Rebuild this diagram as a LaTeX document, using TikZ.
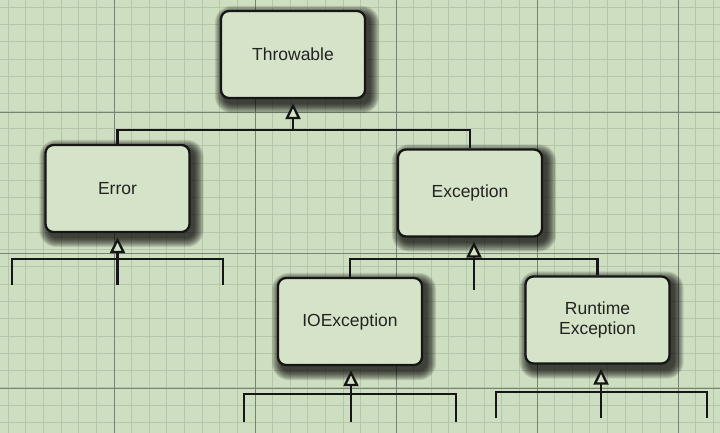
\documentclass[tikz,border=0pt]{standalone}
\usepackage{fontspec}
\setmainfont{Liberation Sans}
\usetikzlibrary{arrows.meta,calc}
\definecolor{bggreen}{RGB}{206,222,192}
\definecolor{boxgreen}{RGB}{213,228,200}
\definecolor{gridminor}{RGB}{182,198,170}
\definecolor{gridmajor}{RGB}{120,132,115}
\definecolor{inkc}{RGB}{22,22,22}
\definecolor{textc}{RGB}{35,35,35}
\pgfdeclarelayer{gridlayer}
\pgfdeclarelayer{shadowlayer}
\pgfsetlayers{gridlayer,shadowlayer,main}
\tikzset{
  cls/.style={draw=inkc, line width=2.3pt, fill=boxgreen, rounded corners=8pt,
    minimum width=144pt, minimum height=87pt, align=center, text=textc,
    font=\fontsize{17.5}{20.5}\selectfont, inner sep=0pt},
  link/.style={draw=inkc, line width=2.3pt},
  inherit/.style={link, -{Triangle[width=15pt,length=16pt,fill=boxgreen,line width=2.3pt]}, shorten >=4pt},
}
\newcommand\mkshadow[1]{%
  \begin{pgfonlayer}{shadowlayer}
  \foreach \e in {9,8,...,0}{
    \fill[black, opacity=0.11, rounded corners={8pt+\e pt}]
      ($(#1.north west)+(4-\e,5-\e)$) rectangle ($(#1.south east)+(4+\e,5+\e)$);
  }
  \end{pgfonlayer}}
\begin{document}
\begin{tikzpicture}[x=1pt,y=-1pt]
\useasboundingbox (0,0) rectangle (720,433);
\begin{pgfonlayer}{gridlayer}
  \fill[bggreen] (0,0) rectangle (720,433);
  \foreach \k in {0,...,41} \draw[gridminor, line width=0.8pt] ({8.25+17.625*\k},0) -- ++(0,433);
  \foreach \k in {0,...,24} \draw[gridminor, line width=0.8pt] (0,{7.25+17.3*\k}) -- ++(720,0);
  \foreach \xx in {114,255,396,537,678} \draw[gridmajor, line width=1pt] (\xx,0) -- (\xx,433);
  \foreach \yy in {113,253,388} \draw[gridmajor, line width=1pt] (0,\yy) -- (720,\yy);
\end{pgfonlayer}

\node[cls] (thr) at (293,54.5) {Throwable};
\node[cls] (err) at (117.5,188.5) {Error};
\node[cls] (exc) at (470,193) {Exception};
\node[cls] (ioe) at (350,321.5) {IOException};
\node[cls] (rte) at (597.5,320) {Runtime\\Exception};
\mkshadow{thr}\mkshadow{err}\mkshadow{exc}\mkshadow{ioe}\mkshadow{rte}

% Throwable
\coordinate (jthr) at (293,130);
\draw[inherit] (jthr) -- (thr.south);
\draw[link] (err.north) |- (jthr) -| (exc.north);

% Error
\coordinate (jerr) at (117.5,259);
\coordinate (eerr) at (117.5,285);
\coordinate (lerr) at (12,285);
\coordinate (rerr) at (223,285);
\draw[inherit] (eerr) -- (err.south);
\draw[link] (lerr) |- (jerr) -| (rerr);

% Exception
\coordinate (jexc) at (474,259);
\coordinate (eexc) at (474,290);
\draw[inherit] (eexc) -- (eexc |- exc.south);
\draw[link] (ioe.north) |- (jexc) -| (rte.north);

% IOException
\coordinate (jioe) at (351,394);
\coordinate (eioe) at (351,422);
\coordinate (lioe) at (244,422);
\coordinate (rioe) at (456,422);
\draw[inherit] (eioe) -- (eioe |- ioe.south);
\draw[link] (lioe) |- (jioe) -| (rioe);

% Runtime Exception
\coordinate (jrte) at (601,392);
\coordinate (erte) at (601,418);
\coordinate (lrte) at (496,418);
\coordinate (rrte) at (707,418);
\draw[inherit] (erte) -- (erte |- rte.south);
\draw[link] (lrte) |- (jrte) -| (rrte);
\end{tikzpicture}
\end{document}
